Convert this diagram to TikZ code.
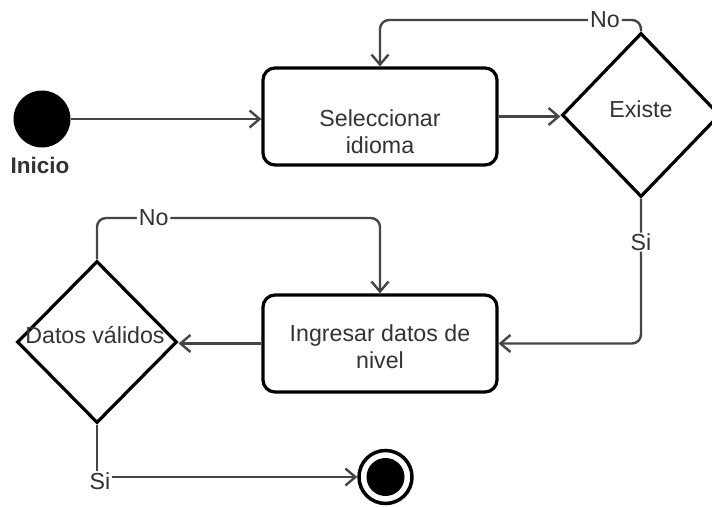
\documentclass[tikz,border=0pt]{standalone}
\usepackage{fontspec}
\setmainfont{Liberation Sans}
\usetikzlibrary{shapes.geometric,arrows.meta}
\definecolor{txtgray}{HTML}{333333}
\definecolor{conngray}{HTML}{454545}
\begin{document}
\begin{tikzpicture}[x=1pt,y=-1pt,
  lbl/.style={font=\fontsize{23.2}{27}\selectfont, text=txtgray, inner sep=0pt},
  edgelbl/.style={lbl, fill=white, inner xsep=2pt, inner ysep=1pt},
  actbox/.style={draw=black, line width=3.2pt, rounded corners=12pt, minimum width=234pt, minimum height=97pt, inner sep=0pt},
  decision/.style={diamond, draw=black, line width=3.2pt, inner sep=0pt},
  conn/.style={draw=conngray, line width=2.4pt, rounded corners=9pt, -{Straight Barb[length=10pt,width=17pt]}},
  plain/.style={draw=conngray, line width=2.4pt, rounded corners=9pt}]
\useasboundingbox (0,0) rectangle (712,506);
% nodes
\node[circle, fill=black, minimum size=57pt, inner sep=0pt] (start) at (42,119) {};
\node[lbl, anchor=base, font=\fontsize{22.5}{27}\selectfont\bfseries] (inicio) at (40,173) {Inicio};
\node[actbox] (box1) at (380,116.5) {};
\node[lbl, anchor=north, align=center] (t1) at (380,109) {Seleccionar\\idioma};
\node[decision, minimum width=158pt, minimum height=164pt] (d1) at (641,115) {};
\node[lbl, anchor=base] (t2) at (641,117) {Existe};
\node[actbox] (box2) at (380,343.5) {};
\node[lbl, anchor=north, align=center] (t3) at (380,324) {Ingresar datos de\\nivel};
\node[decision, minimum width=160pt, minimum height=162pt] (d2) at (97,342) {};
\node[lbl, anchor=base] (t4) at (95,343) {Datos válidos};
\node[circle, draw=black, line width=3.5pt, minimum size=53pt, inner sep=0pt,
  path picture={\fill[black] (path picture bounding box.center) circle[radius=19pt];}] (end) at (385.5,477) {};
% helper coordinates
\coordinate (c1) at (641,20);
\coordinate (c2) at (380,20);
\coordinate (c3) at (97,218);
\coordinate (c4) at (380,218);
% connectors
\draw[conn] (start) -- (start -| box1.west);
\draw[conn] (box1.east) -- (box1.east -| d1.west);
\draw[conn] (d1.north) -- (c1) -- node[edgelbl, pos=0.138] {No} (c2) -- (box1.north);
\draw[conn] (d1.south) |- node[edgelbl, pos=0.15] {Si} (box2.east);
\draw[conn] (box2.west) -- (box2.west -| d2.east);
\draw[conn] (d2.north) -- (c3) -- node[edgelbl, pos=0.2] {No} (c4) -- (box2.north);
\draw[conn, rounded corners=0pt] (d2.south) |- node[edgelbl, pos=0.5, xshift=3pt, yshift=-4pt] {Si} (end.west);
\end{tikzpicture}
\end{document}
